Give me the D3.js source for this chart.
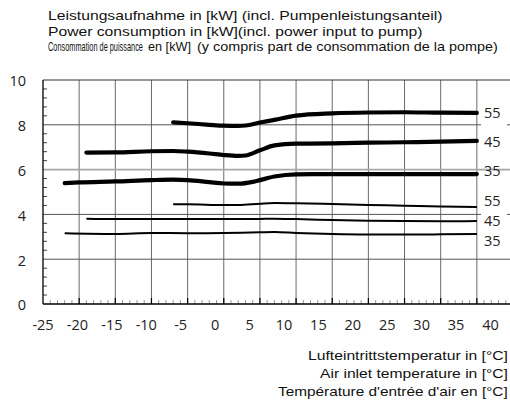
<!DOCTYPE html>
<html>
<head>
<meta charset="utf-8">
<script src="https://cdn.jsdelivr.net/npm/d3@7"></script>
<style>
  html, body { margin: 0; padding: 0; background: #fff; }
  svg { display: block; }
</style>
</head>
<body>
<svg id="chart" width="510" height="405"></svg>
<script>
// Air inlet temperatures (°C) where each curve is sampled
const temps35 = [-22, -20, -15, -10, -7, -5, -2, 0, 2, 4, 5, 7, 10, 15, 20, 25, 30, 35];
const temps45 = [-19, -15, -10, -7, -5, -2, 0, 2, 3, 5, 7, 10, 15, 20, 25, 30, 35];
const temps55 = [-7, -5, -2, 0, 2, 3, 5, 7, 10, 15, 20, 25, 30, 35];

// Thick curves (kW), one per flow temperature
const thick35 = [5.40, 5.43, 5.47, 5.53, 5.55, 5.53, 5.44, 5.38, 5.37, 5.45, 5.53, 5.69, 5.79, 5.80, 5.80, 5.80, 5.80, 5.80];
const thick45 = [6.76, 6.77, 6.82, 6.83, 6.80, 6.72, 6.65, 6.61, 6.63, 6.86, 7.08, 7.16, 7.17, 7.20, 7.22, 7.25, 7.28];
const thick55 = [8.11, 8.07, 8.00, 7.96, 7.95, 7.97, 8.10, 8.22, 8.41, 8.51, 8.55, 8.56, 8.54, 8.53];

// Thin curves (kW)
const thinTemps35 = [-22, -15, -10, -5, 0, 5, 7, 10, 15, 20, 25, 30, 35];
const thinTemps45 = [-19, -15, -10, -5, 0, 5, 7, 10, 15, 20, 25, 30, 35];
const thinTemps55 = [-7, -5, 0, 2, 5, 7, 10, 15, 20, 25, 30, 35];
const thin35 = [3.16, 3.13, 3.17, 3.16, 3.17, 3.20, 3.21, 3.17, 3.12, 3.10, 3.10, 3.11, 3.13];
const thin45 = [3.81, 3.79, 3.79, 3.79, 3.79, 3.80, 3.81, 3.79, 3.75, 3.72, 3.70, 3.69, 3.71];
const thin55 = [4.45, 4.45, 4.42, 4.42, 4.48, 4.51, 4.50, 4.46, 4.42, 4.39, 4.35, 4.33];

// Axis ticks
const xTicks = [-25, -20, -15, -10, -5, 0, 5, 10, 15, 20, 25, 30, 35, 40];
const yTicks = [0, 2, 4, 6, 8, 10];

const titleLines = [
  "Leistungsaufnahme in [kW] (incl. Pumpenleistungsanteil)",
  "Power consumption in [kW](incl. power input to pump)"
];
const titleFr = ["Consommation de puissance", "en [kW]", "(y compris part de consommation de la pompe)"];
const xTitleLines = [
  "Lufteintrittstemperatur in [°C]",
  "Air inlet temperature in [°C]",
  "Température d'entrée d'air en [°C]"
];

const svg = d3.select("#chart");

const plotL = 43, plotR = 513, plotT = 80, plotB = 304;
const x = d3.scaleLinear().domain([-25, 40]).range([plotL, plotR]);
const xLabel = d3.scaleLinear().domain([-25, 40]).range([42.5, 490]);
const y = d3.scaleLinear().domain([0, 10]).range([plotB, plotT]);

const tickFont = "'Open Sans', 'DejaVu Sans', sans-serif";
const textFont = "'Liberation Sans', Arial, sans-serif";

// ---- grid ----
const grid = svg.append("g").attr("stroke", "#6a6a6a").attr("stroke-width", 1);
d3.range(-20, 36, 5).forEach(t => {
  grid.append("line")
    .attr("x1", x(t)).attr("x2", x(t))
    .attr("y1", plotT).attr("y2", plotB);
});
[2, 4, 6, 8].forEach(v => {
  const full = (v === 2 || v === 6);
  grid.append("line")
    .attr("x1", plotL).attr("x2", full ? plotR : 481)
    .attr("y1", y(v)).attr("y2", y(v))
    .attr("stroke", v === 6 ? "#a8a8a8" : "#555")
    .attr("stroke-width", v === 6 ? 1.6 : 1);
  if (!full) {
    grid.append("line")
      .attr("x1", 507).attr("x2", plotR)
      .attr("y1", y(v)).attr("y2", y(v))
      .attr("stroke", "#555");
  }
});

// minor ticks along the x axis (1 °C), pointing up into the plot
const minorX = d3.range(-24, 40, 1).filter(t => t % 5 !== 0);
svg.append("g").selectAll("line").data(minorX).join("line")
  .attr("x1", d => x(d)).attr("x2", d => x(d))
  .attr("y1", plotB).attr("y2", plotB - 4)
  .attr("stroke", "#9a9a9a").attr("stroke-width", 1);
svg.append("g").selectAll("line").data(d3.range(-20, 41, 5)).join("line")
  .attr("x1", d => x(d)).attr("x2", d => x(d))
  .attr("y1", plotB).attr("y2", plotB - 6)
  .attr("stroke", "#000").attr("stroke-width", 1.2);

// minor ticks along the y axis (0.4 kW), pointing right
const minorY = d3.range(0.4, 10, 0.4).filter(v => Math.abs(v / 2 - Math.round(v / 2)) > 1e-6);
svg.append("g").selectAll("line").data(minorY).join("line")
  .attr("x1", plotL).attr("x2", plotL + 4)
  .attr("y1", d => y(d)).attr("y2", d => y(d))
  .attr("stroke", "#444").attr("stroke-width", 1);

// frame
svg.append("line").attr("x1", plotL).attr("x2", plotR).attr("y1", plotT).attr("y2", plotT)
  .attr("stroke", "#333").attr("stroke-width", 1);
svg.append("line").attr("x1", plotL).attr("x2", plotL).attr("y1", plotT).attr("y2", plotB)
  .attr("stroke", "#000").attr("stroke-width", 1.3);
svg.append("line").attr("x1", plotL).attr("x2", plotR).attr("y1", plotB).attr("y2", plotB)
  .attr("stroke", "#000").attr("stroke-width", 1.6);

// ---- tick labels ----
const yAxis = svg.append("g")
  .attr("transform", `translate(${plotL},0)`)
  .call(d3.axisLeft(y).tickValues(yTicks).tickSize(0).tickPadding(17).tickFormat(d => String(d)));
yAxis.select(".domain").remove();
yAxis.selectAll("text").attr("font-family", tickFont).attr("font-size", 14.5).attr("fill", "#222").attr("dy", "0.4em");

const xAxis = svg.append("g")
  .attr("transform", `translate(0,${plotB})`)
  .call(d3.axisBottom(xLabel).tickValues(xTicks).tickSize(0).tickPadding(16).tickFormat(d => String(d)));
xAxis.select(".domain").remove();
xAxis.selectAll("text").attr("font-family", tickFont).attr("font-size", 14.5).attr("fill", "#222");

// ---- curves ----
const line = d3.line().x(d => x(d[0])).y(d => y(d[1])).curve(d3.curveMonotoneX);
const zip = (a, b) => a.map((t, i) => [t, b[i]]);

const curves = [
  { name: "55", pts: zip(temps55, thick55), w: 4.2, nudge: 0 },
  { name: "45", pts: zip(temps45, thick45), w: 4.2, nudge: 0.5 },
  { name: "35", pts: zip(temps35, thick35), w: 4.2, nudge: -3.5 },
  { name: "55", pts: zip(thinTemps55, thin55), w: 2, nudge: -6.5 },
  { name: "45", pts: zip(thinTemps45, thin45), w: 2, nudge: -0.5 },
  { name: "35", pts: zip(thinTemps35, thin35), w: 2, nudge: 6.5 }
];

const cg = svg.append("g");
curves.forEach(c => {
  cg.append("path")
    .attr("d", line(c.pts))
    .attr("fill", "none")
    .attr("stroke", "#000")
    .attr("stroke-width", c.w)
    .attr("stroke-linecap", c.w > 3 ? "round" : "butt")
    .attr("stroke-linejoin", "round");
  const last = c.pts[c.pts.length - 1];
  cg.append("text")
    .attr("x", 484)
    .attr("y", y(last[1]) + c.nudge)
    .attr("dy", "0.36em")
    .attr("font-family", tickFont)
    .attr("font-size", 14.5)
    .attr("fill", "#222")
    .text(c.name);
});

// ---- titles ----
const tg = svg.append("g").attr("font-family", textFont).attr("fill", "#111");

// text squeezed horizontally to a given width (condensed look)
function fitText(str, x0, yBase, size, width) {
  const t = tg.append("text").attr("font-size", size).text(str);
  const natural = t.node().getComputedTextLength();
  t.attr("transform", `translate(${x0},${yBase}) scale(${width / natural},1)`);
  return t;
}

const titleWidths = [395, 375];
titleLines.forEach((s, i) => fitText(s, 48, 20 + i * 16, 13, titleWidths[i]));

const frX = [48, 148, 197], frW = [95, 43, 301], frSize = [12.5, 13, 12];
titleFr.forEach((s, i) => fitText(s, frX[i], 51, frSize[i], frW[i]));

const xtWidths = [200, 188, 230];
xTitleLines.forEach((s, i) => fitText(s, 508 - xtWidths[i], 360 + i * 18, 13, xtWidths[i]));
</script>
</body>
</html>
